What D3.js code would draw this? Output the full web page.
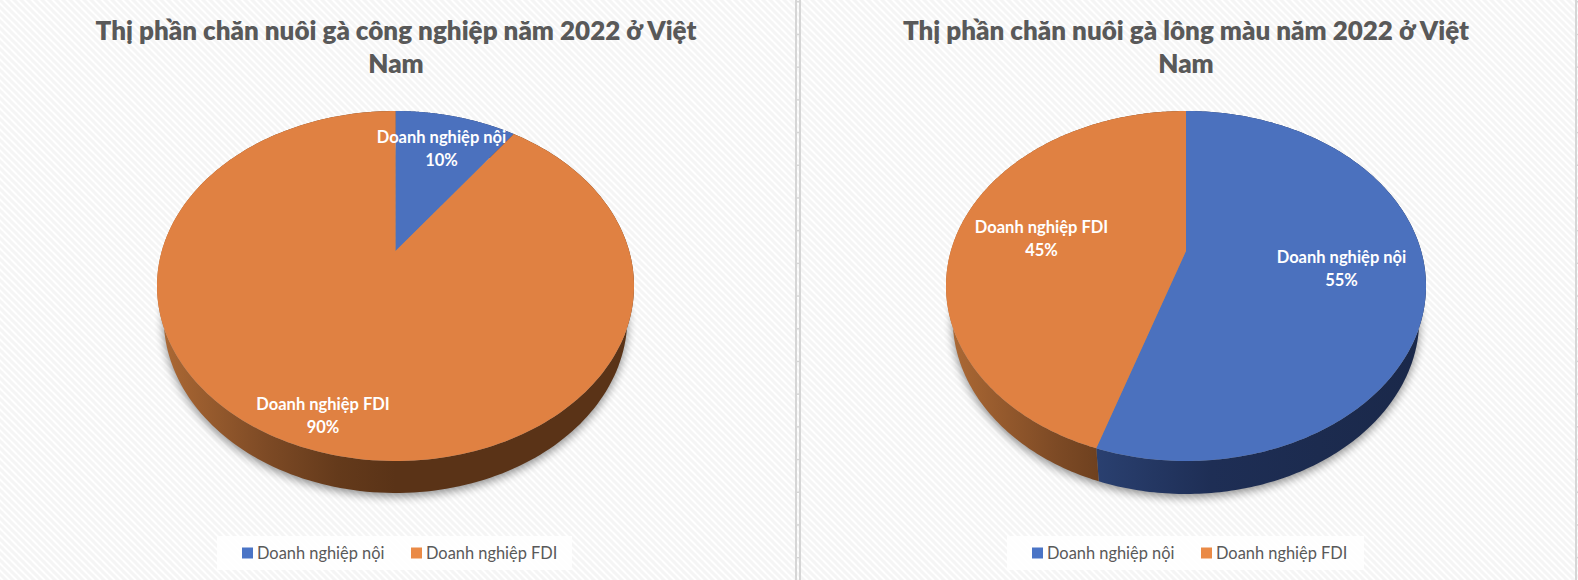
<!DOCTYPE html>
<html><head><meta charset="utf-8">
<style>html,body{margin:0;padding:0;background:#fff;overflow:hidden}svg{display:block}</style>
<script src="https://cdn.jsdelivr.net/npm/d3@7/dist/d3.min.js"></script></head>
<body><svg id="c" width="1578" height="580"></svg>
<script>
const categories = ["Doanh nghiệp nội", "Doanh nghiệp FDI"];
const industrialShare = [10, 90];
const colouredShare = [55, 45];
const titleIndustrial = ["Thị phần chăn nuôi gà công nghiệp năm 2022 ở Việt", "Nam"];
const titleColoured = ["Thị phần chăn nuôi gà lông màu năm 2022 ở Việt", "Nam"];

const FONT = "Lato, Carlito, 'Open Sans', sans-serif";
const W = 1578, H = 580;
const topColours = ["#4B71BE", "#E08142"];
const swatchColours = ["#4A74C6", "#EA8A46"];
const wallStops = [
  [[0, "#2A4070"], [0.35, "#1E2E55"], [1, "#1A2849"]],
  [[0, "#AE6A35"], [0.23, "#7D4A25"], [0.38, "#643A1B"], [0.5, "#5A3317"], [1, "#5A3317"]]
];

const svg = d3.select("#c");
const defs = svg.append("defs");

const pat = defs.append("pattern").attr("id", "bg").attr("patternUnits", "userSpaceOnUse")
  .attr("width", 7).attr("height", 7);
pat.append("rect").attr("width", 7).attr("height", 7).attr("fill", "#fff");
pat.append("path").attr("d", "M-1,-1 L8,8 M-1,6 L1,8 M6,-1 L8,1")
  .attr("stroke", "#F5F5F5").attr("stroke-width", 3);
defs.append("filter").attr("id", "blur").attr("x", "-10%").attr("y", "-10%").attr("width", "120%").attr("height", "130%")
  .append("feGaussianBlur").attr("stdDeviation", 5);

svg.append("rect").attr("width", W).attr("height", H).attr("fill", "url(#bg)");

// window-frame rules of the spreadsheet behind the charts
const rows = d3.range(1, H, 32.7);
const frame = svg.append("g").attr("fill", "#D6D6D6");
[795, 799, 1575].forEach(x => frame.append("rect").attr("x", x).attr("y", 0).attr("width", 2).attr("height", H));
frame.selectAll(".t1").data(rows).join("rect").attr("x", 796).attr("y", d => d).attr("width", 4).attr("height", 1.5);
frame.selectAll(".t2").data(rows).join("rect").attr("x", 1576).attr("y", d => d).attr("width", 2).attr("height", 1.5);

function drawChart(o) {
  const g = svg.append("g");
  const persp = 0.2;
  const sy = 140 * (1 + persp);
  const sx = o.rx * Math.sqrt(1 - persp * persp);
  const depth = o.depth, shrink = 0.972;
  const pie = d3.pie().sort(null).startAngle(0).endAngle(2 * Math.PI);
  const arcs = pie(o.values);

  // circle angle -> screen, through a perspective mapping of the disc
  const rim = a => {
    const X = Math.sin(a), Y = -Math.cos(a), w = 1 - persp * Y;
    return [o.cx + sx * X / w, o.cy + sy * Y / w];
  };
  const low = a => {
    const p = rim(a);
    return [o.cx + (p[0] - o.cx) * shrink, p[1] + depth];
  };
  const sweep = (a0, a1, f) => d3.range(0, 241).map(i => f(a0 + (a1 - a0) * i / 240));
  const line = d3.line();

  // soft shadow
  g.append("path").attr("d", line(sweep(0, 2 * Math.PI, low)) + "Z")
    .attr("transform", "translate(0,3)").attr("fill", "#000").attr("opacity", 0.45).attr("filter", "url(#blur)");

  // side wall
  arcs.forEach((d, i) => {
    const id = "wall" + o.id + i;
    const lg = defs.append("linearGradient").attr("id", id).attr("gradientUnits", "userSpaceOnUse")
      .attr("x1", o.wallRange[i][0]).attr("x2", o.wallRange[i][1]).attr("y1", 0).attr("y2", 0);
    wallStops[i].forEach(s => lg.append("stop").attr("offset", s[0]).attr("stop-color", s[1]));
    const pts = sweep(d.startAngle, d.endAngle, rim).concat(sweep(d.endAngle, d.startAngle, low));
    g.append("path").attr("d", line(pts) + "Z").attr("fill", `url(#${id})`);
  });

  // top face
  arcs.forEach((d, i) => {
    const pts = [[o.cx, o.cy]].concat(sweep(d.startAngle, d.endAngle, rim));
    g.append("path").attr("d", line(pts) + "Z").attr("fill", topColours[i]);
  });

  // title
  o.title.forEach((t, i) => g.append("text").text(t)
    .attr("x", o.titleX).attr("y", 39.5 + i * 33).attr("text-anchor", "middle")
    .attr("font-family", FONT).attr("font-weight", 800).attr("font-size", 26).attr("fill", "#595959"));

  // data labels
  arcs.forEach((d, i) => {
    const lb = o.labels[i];
    [categories[i], d3.format("d")(d.data) + "%"].forEach((t, k) => g.append("text").text(t)
      .attr("x", lb[0]).attr("y", lb[1] + k * 22.5).attr("text-anchor", "middle")
      .attr("font-family", FONT).attr("font-weight", 700).attr("font-size", 16.5).attr("fill", "#fff"));
  });

  // legend
  const L = o.legend;
  g.append("rect").attr("x", L.x).attr("y", 536).attr("width", L.w).attr("height", 34)
    .attr("fill", "#fff").attr("opacity", 0.85);
  categories.forEach((c, i) => {
    g.append("rect").attr("x", L.sw[i]).attr("y", 547.5).attr("width", 11).attr("height", 11).attr("fill", swatchColours[i]);
    g.append("text").text(c).attr("x", L.sw[i] + 15).attr("y", 558.5)
      .attr("font-family", FONT).attr("font-size", 16.4).attr("fill", "#595959");
  });
}

drawChart({ id: "a", values: industrialShare, title: titleIndustrial, cx: 395.5, cy: 251, rx: 238.5, depth: 32, titleX: 396,
  wallRange: [[395, 634], [157, 634]],
  labels: [[441.5, 143], [323, 410]],
  legend: { x: 217, w: 355, sw: [242, 411] } });
drawChart({ id: "b", values: colouredShare, title: titleColoured, cx: 1186, cy: 251, rx: 240, depth: 33, titleX: 1186,
  wallRange: [[1096, 1426], [946, 1426]],
  labels: [[1341.5, 263], [1041.5, 233]],
  legend: { x: 1007, w: 357, sw: [1032, 1201] } });
</script></body></html>
